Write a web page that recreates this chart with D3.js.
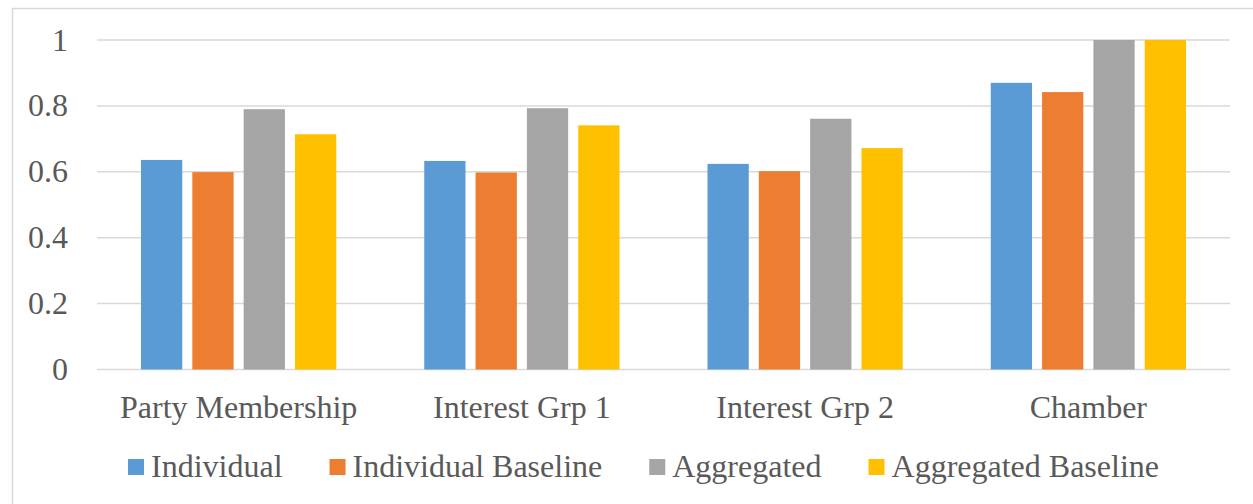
<!DOCTYPE html>
<html>
<head>
<meta charset="utf-8">
<script src="https://cdn.jsdelivr.net/npm/d3@7/dist/d3.min.js"></script>
<style>
  html, body { margin: 0; padding: 0; background: #fff; }
  svg { display: block; }
</style>
</head>
<body>
<svg id="chart" width="1253" height="504"></svg>
<script>
// Categories along the x axis
const categories = ["Party Membership", "Interest Grp 1", "Interest Grp 2", "Chamber"];

// Series names, in legend order
const seriesNames = ["Individual", "Individual Baseline", "Aggregated", "Aggregated Baseline"];

// Values per series, one entry per category
const individual         = [0.636, 0.633, 0.624, 0.870];
const individualBaseline = [0.599, 0.598, 0.602, 0.842];
const aggregated         = [0.790, 0.793, 0.761, 1.000];
const aggregatedBaseline = [0.714, 0.741, 0.672, 1.000];

// Y axis tick values and labels
const yTicks = [0, 0.2, 0.4, 0.6, 0.8, 1];
const yTickLabels = ["0", "0.2", "0.4", "0.6", "0.8", "1"];

const seriesValues = [individual, individualBaseline, aggregated, aggregatedBaseline];
const colors = ["#5B9BD5", "#ED7D31", "#A5A5A5", "#FFC000"];

const FONT = "'Liberation Serif', 'Times New Roman', Times, serif";
const FONT_SIZE = 32;
const TEXT_COLOR = "#595959";

const svg = d3.select("#chart");

// Outer chart frame
svg.append("rect")
  .attr("x", 12.5).attr("y", 8.5)
  .attr("width", 1260).attr("height", 520)
  .attr("fill", "none")
  .attr("stroke", "#D9D9D9")
  .attr("stroke-width", 1.5);

const plot = { left: 97, right: 1230, top: 40, bottom: 369.5 };

const x0 = d3.scaleBand()
  .domain(categories)
  .range([plot.left, plot.right])
  .padding(0);

const groupInset = 44;
const x1 = d3.scaleBand()
  .domain(d3.range(seriesNames.length))
  .range([groupInset, x0.bandwidth() - groupInset])
  .paddingInner(0.196)
  .paddingOuter(0);

const y = d3.scaleLinear()
  .domain([0, 1])
  .range([plot.bottom, plot.top]);

// Horizontal gridlines
svg.append("g")
  .selectAll("line")
  .data(yTicks)
  .join("line")
  .attr("x1", plot.left)
  .attr("x2", plot.right)
  .attr("y1", d => y(d))
  .attr("y2", d => y(d))
  .attr("stroke", "#D9D9D9")
  .attr("stroke-width", 1.5);

// Y axis labels
svg.append("g")
  .selectAll("text")
  .data(yTicks)
  .join("text")
  .attr("x", 68)
  .attr("y", d => y(d))
  .attr("dy", "0.33em")
  .attr("text-anchor", "end")
  .attr("font-family", FONT)
  .attr("font-size", FONT_SIZE)
  .attr("fill", TEXT_COLOR)
  .text((d, i) => yTickLabels[i]);

// Bars
const groups = svg.append("g")
  .selectAll("g")
  .data(categories)
  .join("g")
  .attr("transform", d => `translate(${x0(d)},0)`);

groups.selectAll("rect")
  .data((c, ci) => seriesValues.map((vals, si) => ({ si, v: vals[ci] })))
  .join("rect")
  .attr("x", d => x1(d.si))
  .attr("width", x1.bandwidth())
  .attr("y", d => y(d.v))
  .attr("height", d => y(0) - y(d.v))
  .attr("fill", d => colors[d.si]);

// Category labels
svg.append("g")
  .selectAll("text")
  .data(categories)
  .join("text")
  .attr("x", d => x0(d) + x0.bandwidth() / 2)
  .attr("y", 418)
  .attr("text-anchor", "middle")
  .attr("font-family", FONT)
  .attr("font-size", FONT_SIZE)
  .attr("fill", TEXT_COLOR)
  .text(d => d);

// Legend
const legend = svg.append("g");
let lx = 128;
const itemGap = 47, swatch = 16, swatchGap = 7;
seriesNames.forEach((name, i) => {
  legend.append("rect")
    .attr("x", lx).attr("y", 459)
    .attr("width", swatch).attr("height", swatch)
    .attr("fill", colors[i]);
  const t = legend.append("text")
    .attr("x", lx + swatch + swatchGap)
    .attr("y", 477)
    .attr("font-family", FONT)
    .attr("font-size", FONT_SIZE)
    .attr("fill", TEXT_COLOR)
    .text(name);
  lx += swatch + swatchGap + t.node().getComputedTextLength() + itemGap;
});
</script>
</body>
</html>
